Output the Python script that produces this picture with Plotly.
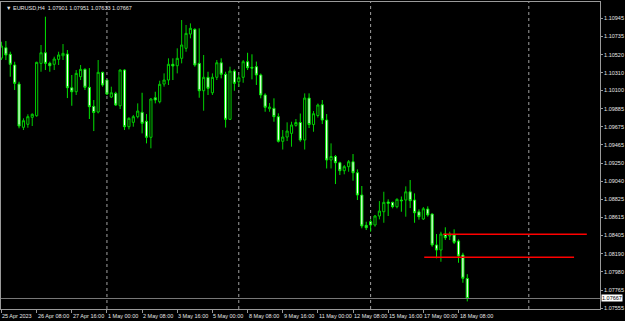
import plotly.graph_objects as go

# ---------------- data ----------------
bars = list(range(107))  # H4 bars starting 25 Apr 2023 00:00

opens = [1.10480, 1.10601, 1.10524, 1.10399, 1.10176, 1.09670, 1.09705, 1.09787, 1.09805, 1.10418,
         1.10542, 1.10418, 1.10407, 1.10465, 1.10507, 1.10527, 1.10133, 1.10086, 1.10262, 1.10348,
         1.10138, 1.09915, 1.09849, 1.10313, 1.10223, 1.10024, 1.10067, 1.09922, 1.10340, 1.09677,
         1.09728, 1.09794, 1.09845, 1.09740, 1.09553, 1.10016, 1.09969, 1.10176, 1.10223, 1.10407,
         1.10390, 1.10477, 1.10594, 1.10761, 1.10816, 1.10418, 1.10098, 1.10255, 1.10074, 1.10255,
         1.10425, 1.10290, 1.09763, 1.10328, 1.10203, 1.10255, 1.10437, 1.10372, 1.10379, 1.10282,
         1.10048, 1.09887, 1.09892, 1.09794, 1.09506, 1.09556, 1.09599, 1.09693, 1.09726, 1.09521,
         1.10012, 1.09702, 1.09808, 1.09934, 1.09755, 1.09287, 1.09328, 1.09255, 1.09162, 1.09209,
         1.09267, 1.09138, 1.08878, 1.08523, 1.08565, 1.08527, 1.08632, 1.08682, 1.08796, 1.08792,
         1.08741, 1.08819, 1.08819, 1.08915, 1.08819, 1.08681, 1.08597, 1.08714, 1.08655, 1.08293,
         1.08234, 1.08421, 1.08398, 1.08410, 1.08339, 1.08176, 1.07901]

highs = [1.10671, 1.10679, 1.10554, 1.10437, 1.10203, 1.09775, 1.09822, 1.09833, 1.10437, 1.10633,
         1.10964, 1.10437, 1.10496, 1.10554, 1.10644, 1.10574, 1.10282, 1.10340, 1.10399, 1.10360,
         1.10363, 1.09989, 1.10457, 1.10320, 1.10235, 1.10145, 1.10086, 1.10348, 1.10348, 1.09787,
         1.09814, 1.09950, 1.10074, 1.09825, 1.10012, 1.10086, 1.10215, 1.10301, 1.10477, 1.10477,
         1.10594, 1.10925, 1.10867, 1.10886, 1.10828, 1.10828, 1.10516, 1.10320, 1.10301, 1.10457,
         1.10477, 1.10320, 1.10379, 1.10348, 1.10282, 1.10457, 1.10542, 1.10524, 1.10439, 1.10299,
         1.10067, 1.09954, 1.10009, 1.09833, 1.09638, 1.09728, 1.09735, 1.09767, 1.09831, 1.10067,
         1.10067, 1.09860, 1.09948, 1.09989, 1.09825, 1.09482, 1.09346, 1.09267, 1.09229, 1.09287,
         1.09357, 1.09178, 1.08983, 1.08565, 1.08593, 1.08644, 1.08807, 1.08916, 1.08827, 1.08799,
         1.08839, 1.08860, 1.08979, 1.09053, 1.08897, 1.08710, 1.08737, 1.08745, 1.08663, 1.08421,
         1.08448, 1.08500, 1.08448, 1.08476, 1.08359, 1.08202, 1.07951]

lows = [1.10457, 1.10457, 1.10262, 1.10106, 1.09658, 1.09638, 1.09665, 1.09685, 1.09794, 1.10320,
        1.10340, 1.10320, 1.10340, 1.10399, 1.10457, 1.10012, 1.09922, 1.10048, 1.10223, 1.10106,
        1.09767, 1.09626, 1.09833, 1.10145, 1.10048, 1.10012, 1.09919, 1.09884, 1.09638, 1.09646,
        1.09677, 1.09775, 1.09599, 1.09482, 1.09424, 1.09950, 1.09950, 1.10145, 1.10165, 1.10223,
        1.10301, 1.10418, 1.10554, 1.10711, 1.10379, 1.10016, 1.09864, 1.10048, 1.10048, 1.10223,
        1.10243, 1.09667, 1.09755, 1.10098, 1.10145, 1.10191, 1.10340, 1.10231, 1.10165, 1.10009,
        1.09852, 1.09852, 1.09735, 1.09492, 1.09410, 1.09509, 1.09443, 1.09677, 1.09501, 1.09410,
        1.09661, 1.09618, 1.09784, 1.09708, 1.09188, 1.09188, 1.09006, 1.09112, 1.09120, 1.09150,
        1.09045, 1.08819, 1.08488, 1.08468, 1.08448, 1.08507, 1.08593, 1.08553, 1.08632, 1.08722,
        1.08722, 1.08682, 1.08624, 1.08725, 1.08553, 1.08589, 1.08585, 1.08624, 1.08273, 1.08137,
        1.08097, 1.08351, 1.08351, 1.08304, 1.08085, 1.07851, 1.07633]

closes = [1.10621, 1.10516, 1.10407, 1.10184, 1.09685, 1.09747, 1.09794, 1.09822, 1.10430, 1.10542,
          1.10418, 1.10390, 1.10469, 1.10516, 1.10535, 1.10133, 1.10086, 1.10301, 1.10348, 1.10138,
          1.09911, 1.09843, 1.10313, 1.10165, 1.10059, 1.10074, 1.09931, 1.10340, 1.09677, 1.09775,
          1.09794, 1.09860, 1.09716, 1.09553, 1.10001, 1.09989, 1.10173, 1.10223, 1.10407, 1.10387,
          1.10477, 1.10633, 1.10769, 1.10828, 1.10399, 1.10098, 1.10255, 1.10126, 1.10255, 1.10425,
          1.10290, 1.09763, 1.10328, 1.10184, 1.10250, 1.10437, 1.10367, 1.10363, 1.10282, 1.10048,
          1.09904, 1.09907, 1.09794, 1.09506, 1.09556, 1.09626, 1.09697, 1.09726, 1.09521, 1.10012,
          1.09702, 1.09829, 1.09931, 1.09755, 1.09287, 1.09328, 1.09255, 1.09162, 1.09209, 1.09267,
          1.09138, 1.08878, 1.08515, 1.08495, 1.08527, 1.08632, 1.08690, 1.08792, 1.08780, 1.08741,
          1.08827, 1.08811, 1.08915, 1.08811, 1.08670, 1.08624, 1.08717, 1.08644, 1.08293, 1.08234,
          1.08421, 1.08378, 1.08421, 1.08324, 1.08164, 1.07903, 1.07667]

time_tick_bars = [0, 8, 16, 24, 32, 40, 48, 56, 64, 72, 80, 88, 96, 104]
time_tick_labels = ["25 Apr 2023", "26 Apr 08:00", "27 Apr 16:00", "1 May 00:00", "2 May 08:00",
                    "3 May 16:00", "5 May 00:00", "8 May 08:00", "9 May 16:00", "11 May 00:00",
                    "12 May 08:00", "15 May 16:00", "17 May 00:00", "18 May 08:00"]

price_ticks = [1.10945, 1.10735, 1.10520, 1.10310, 1.10100, 1.09885, 1.09675, 1.09465, 1.09250,
               1.09040, 1.08825, 1.08615, 1.08405, 1.08190, 1.07980, 1.07765, 1.07555]

separator_bars = [24, 54, 84, 120]

level_prices = [1.08418, 1.08149]
level_start_bars = [100.5, 96.2]
level_end_bars = [133.2, 130.3]

last_price = 1.07667
header_text = "\u25BC EURUSD,H4  1.07901 1.07951 1.07633 1.07667"

# ---------------- figure ----------------
FONT = "Liberation Sans"
TXT = "#e6e6e6"
FRAME = "#9a9a9a"

fig = go.Figure()
fig.add_trace(go.Candlestick(
    x=bars, open=opens, high=highs, low=lows, close=closes,
    increasing=dict(line=dict(color="#00cc00", width=1), fillcolor="#000000"),
    decreasing=dict(line=dict(color="#00e600", width=1), fillcolor="#ffffff"),
    whiskerwidth=0, hoverinfo="skip", showlegend=False,
))

shapes = []
for b in separator_bars:
    shapes.append(dict(type="line", xref="x", yref="paper", x0=b, x1=b, y0=0, y1=1,
                       line=dict(color="#a0a0a0", width=1, dash="dot"), layer="below"))
shapes.append(dict(type="line", xref="paper", yref="y", x0=0, x1=1, y0=last_price, y1=last_price,
                   line=dict(color="#7a7a7a", width=1)))
for p, s, e in zip(level_prices, level_start_bars, level_end_bars):
    shapes.append(dict(type="line", xref="x", yref="y", x0=s, x1=e, y0=p, y1=p,
                       line=dict(color="#ff0000", width=1.5)))

annotations = []
for b, t in zip(time_tick_bars, time_tick_labels):
    annotations.append(dict(x=b, y=0, xref="x", yref="paper", text=t, showarrow=False,
                            xanchor="left", yanchor="top", yshift=-2, xshift=-1,
                            font=dict(family=FONT, size=5.5, color=TXT)))
annotations.append(dict(x=1, y=last_price, xref="paper", yref="y",
                        text=f"{last_price:.5f}", showarrow=False, xanchor="left", yanchor="middle",
                        xshift=1, bgcolor="#ffffff", borderpad=0,
                        font=dict(family=FONT, size=5.5, color="#000000")))
annotations.append(dict(x=0, y=1, xref="paper", yref="paper", text=header_text, showarrow=False,
                        xanchor="left", yanchor="top", xshift=3, yshift=-1,
                        font=dict(family=FONT, size=5.5, color=TXT)))

fig.update_layout(
    width=625, height=321, autosize=False,
    margin=dict(l=1, r=25, t=2, b=12, pad=0),
    paper_bgcolor="#000000", plot_bgcolor="#000000",
    showlegend=False, shapes=shapes, annotations=annotations,
    xaxis=dict(range=[-0.11, 136.2], showgrid=False, zeroline=False,
               showline=True, linecolor=FRAME, linewidth=1, mirror=True,
               ticks="outside", ticklen=3, tickcolor=FRAME, tickwidth=1,
               tickvals=time_tick_bars, showticklabels=False,
               rangeslider=dict(visible=False), fixedrange=True),
    yaxis=dict(side="right", range=[1.07544, 1.11136], showgrid=False, zeroline=False,
               showline=True, linecolor=FRAME, linewidth=1, mirror=True,
               ticks="outside", ticklen=2, tickcolor=FRAME, tickwidth=1,
               tickvals=price_ticks, ticktext=[f"{v:.5f}" for v in price_ticks],
               tickfont=dict(family=FONT, size=5.5, color=TXT), fixedrange=True),
)

fig.write_html("out.html", config={"displayModeBar": False})
